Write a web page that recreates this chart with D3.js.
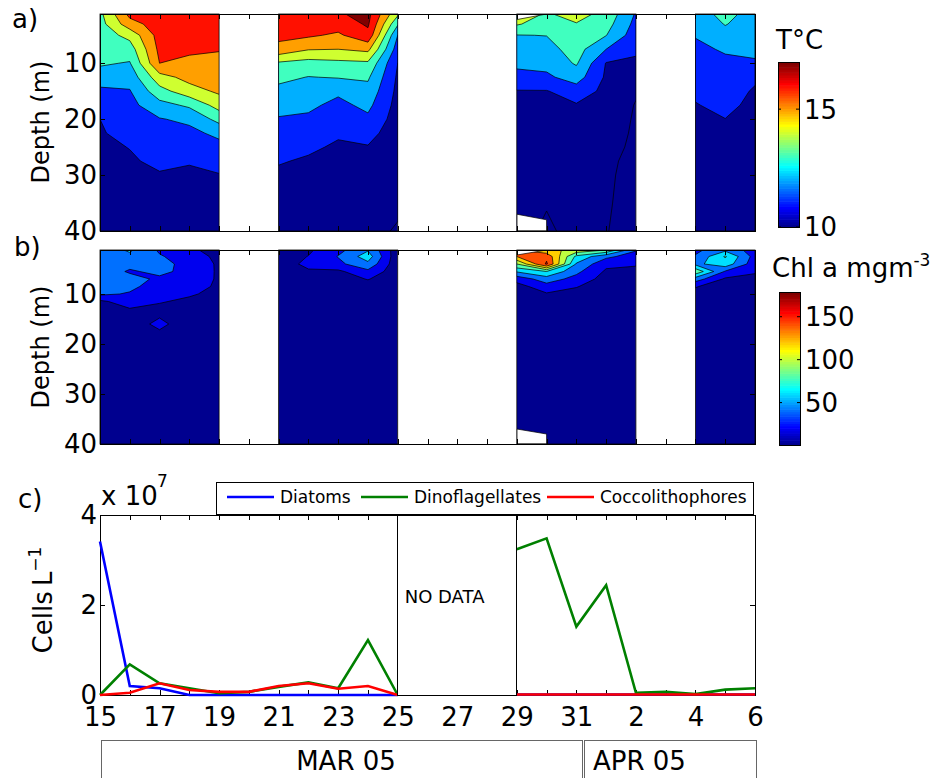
<!DOCTYPE html>
<html>
<head>
<meta charset="utf-8">
<script src="https://cdn.jsdelivr.net/npm/d3@7"></script>
<style>
  body { margin: 0; background: #fff; }
  svg { display: block; font-family: "DejaVu Sans", sans-serif; }
  .tick line, .frame { shape-rendering: crispEdges; }
</style>
</head>
<body>
<svg id="chart" width="943" height="778"></svg>
<script>
// CTD survey days, grouped in runs of consecutive sampling
var surveyDays = ["2005-03-15", "2005-03-16", "2005-03-17", "2005-03-18", "2005-03-19",
                  "2005-03-21", "2005-03-22", "2005-03-23", "2005-03-24", "2005-03-25",
                  "2005-03-29", "2005-03-30", "2005-03-31", "2005-04-01", "2005-04-02",
                  "2005-04-04", "2005-04-05", "2005-04-06"];
var surveyRuns = [[0, 5], [5, 10], [10, 15], [15, 18]];

// temperature profiles (degC), one row per survey day
var tempDepths = [1.2, 3, 5, 7.5, 10, 12.5, 15, 17.5, 20, 22.5, 25, 27.5, 30, 35, 40];
var temperature = [
    [13.75, 13.62, 13.48, 13.30, 13.12, 12.56, 11.77, 11.38, 11.00, 10.93, 10.85, 10.78, 10.70, 10.55, 10.40],
    [16.30, 15.58, 14.31, 13.51, 12.93, 12.39, 11.94, 11.71, 11.49, 11.25, 11.02, 10.91, 10.81, 10.60, 10.40],
    [16.60, 16.50, 16.40, 16.25, 16.00, 14.62, 13.63, 12.66, 11.94, 11.68, 11.42, 11.16, 10.94, 10.62, 10.30],
    [16.60, 16.50, 16.35, 16.15, 15.80, 15.33, 14.59, 13.17, 12.21, 11.74, 11.40, 11.05, 10.88, 10.59, 10.30],
    [16.60, 16.45, 16.30, 16.05, 15.76, 15.47, 15.17, 14.41, 13.33, 12.24, 11.69, 11.30, 10.96, 10.63, 10.30],
    [16.60, 16.45, 16.25, 15.70, 13.85, 13.24, 12.75, 12.32, 11.93, 11.64, 11.34, 11.05, 10.88, 10.59, 10.30],
    [16.70, 16.45, 16.15, 15.06, 13.61, 12.97, 12.58, 12.20, 11.83, 11.47, 11.11, 10.92, 10.79, 10.55, 10.30],
    [16.90, 16.45, 15.83, 15.00, 13.75, 13.06, 12.18, 11.74, 11.41, 11.08, 10.91, 10.79, 10.67, 10.44, 10.20],
    [17.30, 17.13, 16.73, 15.25, 13.83, 13.14, 12.67, 12.25, 11.80, 11.30, 10.95, 10.81, 10.68, 10.42, 10.15],
    [14.20, 13.13, 12.00, 11.50, 11.00, 10.85, 10.75, 10.65, 10.55, 10.50, 10.45, 10.40, 10.30, 10.10, 9.95],
    [14.50, 14.10, 12.97, 12.61, 12.25, 11.64, 10.95, 10.85, 10.75, 10.65, 10.55, 10.45, 10.35, 10.20, 10.10],
    [13.90, 13.50, 13.02, 12.66, 12.30, 11.82, 10.95, 10.80, 10.70, 10.60, 10.50, 10.40, 10.30, 10.02, 9.95],
    [14.35, 13.95, 13.71, 13.41, 13.11, 12.45, 11.52, 10.92, 10.85, 10.75, 10.60, 10.50, 10.40, 10.20, 10.10],
    [13.70, 13.40, 13.03, 12.00, 10.95, 10.85, 10.75, 10.60, 10.40, 10.30, 10.20, 10.10, 10.07, 10.05, 10.02],
    [11.90, 11.70, 11.45, 11.15, 10.85, 10.55, 10.10, 9.95, 9.92, 9.90, 9.88, 9.86, 9.85, 9.82, 9.80],
    [12.55, 12.30, 12.05, 11.82, 11.59, 11.37, 11.14, 10.96, 10.85, 10.70, 10.60, 10.50, 10.40, 10.25, 10.10],
    [13.30, 13.05, 12.66, 12.09, 11.83, 11.62, 11.41, 11.20, 10.99, 10.85, 10.75, 10.60, 10.50, 10.30, 10.15],
    [12.60, 12.50, 12.35, 12.20, 11.90, 11.15, 10.90, 10.80, 10.70, 10.60, 10.50, 10.45, 10.40, 10.30, 10.20]
];
var tempLevels = [10, 11, 12, 13, 14, 15, 16, 17];
var tempRange = [10, 17];

// chlorophyll a profiles (mg m-3)
var chlDepths = [1.2, 2.5, 4, 5.5, 7, 8.5, 10, 11.5, 13, 16, 20, 25, 30, 35, 40];
var chlorophyll = [
    [48, 50, 50, 50, 49, 47, 44, 16, 10, 8, 7, 6, 5, 5, 5],
    [63, 55, 45, 38, 46, 45, 38, 30, 19, 12, 8, 6, 5, 5, 5],
    [37, 42, 46, 44, 37, 30, 26, 22, 14, 24, 10, 7, 6, 5, 5],
    [24, 30, 34, 35, 34, 30, 23, 15, 11, 11, 8, 6, 5, 5, 5],
    [12, 15, 17, 17, 17, 16, 13, 10, 9, 8, 7, 6, 5, 5, 5],
    [10, 11, 12, 11, 9, 8, 8, 7, 7, 6, 6, 5, 5, 5, 5],
    [17, 20.5, 24, 18, 12, 10, 9, 8, 7, 6, 6, 5, 5, 5, 5],
    [34, 41, 35, 16, 11, 9, 8, 7, 7, 6, 6, 5, 5, 5, 5],
    [58, 70, 55, 35, 21, 12, 9, 8, 7, 6, 6, 5, 5, 5, 5],
    [8, 5, 6, 7, 7, 6, 6, 6, 6, 5, 5, 5, 5, 5, 5],
    [140, 140, 100, 62, 28, 12, 9, 8, 7, 6, 6, 5, 5, 5, 5],
    [125, 155, 163, 80, 50, 32, 18, 11, 9, 7, 6, 5, 5, 5, 5],
    [115, 75, 58, 45, 33, 21, 14, 10, 8, 7, 6, 5, 5, 5, 5],
    [100, 45, 25, 17, 12, 10, 9, 8, 7, 6, 6, 5, 5, 5, 5],
    [42, 30, 22, 15, 11, 9, 8, 7, 7, 6, 6, 5, 5, 5, 5],
    [35, 42, 55, 95, 50, 21, 15, 10, 8, 7, 6, 5, 5, 5, 5],
    [55, 82, 72, 38, 17, 12, 10, 8, 7, 6, 6, 5, 5, 5, 5],
    [30, 32, 28, 22, 15, 11, 9, 8, 7, 6, 6, 5, 5, 5, 5]
];
var chlLevels = [20, 40, 60, 80, 100, 120, 140, 160];
var chlRange = [0.6, 178.8];

// casts on 29 March did not reach the surface or the bottom
var missingCorners = [
    [["2005-03-29", 1.2], ["2005-03-29", 2.2], ["2005-03-30", 1.2]],
    [["2005-03-29", 40], ["2005-03-29", 37.0], ["2005-03-30", 38.0], ["2005-03-30", 40]]
];

// daily cell counts, x 10^7 cells per litre (null = no sample)
var cellDaysStart = "2005-03-15", cellDaysEnd = "2005-04-06";
var diatoms =          [3.41, 0.20, 0.15, 0.00, 0.00, 0.00, 0.00, 0.00, 0.00, 0.00, 0.00, null, null, null, 0.01, 0.01, 0.01, 0.01, 0.01, 0.01, 0.01, 0.01, 0.01];
var dinoflagellates =  [0.00, 0.68, 0.26, 0.15, 0.04, 0.07, 0.18, 0.28, 0.15, 1.22, 0.00, null, null, null, 3.24, 3.48, 1.52, 2.44, 0.05, 0.07, 0.02, 0.12, 0.15];
var coccolithophores = [0.00, 0.05, 0.26, 0.11, 0.07, 0.07, 0.20, 0.26, 0.14, 0.20, 0.00, null, null, null, 0.01, 0.01, 0.01, 0.01, 0.01, 0.01, 0.01, 0.01, 0.01];
var seriesNames = ["Diatoms", "Dinoflagellates", "Coccolithophores"];
var seriesColours = ["#0000ff", "#008000", "#ff0000"];
var noDataSpan = ["2005-03-25", "2005-03-29"];
var monthLabels = ["MAR 05", "APR 05"];

var svg = d3.select("#chart");
var parse = d3.utcParse("%Y-%m-%d");
var allDays = d3.utcDay.range(parse(cellDaysStart), d3.utcDay.offset(parse(cellDaysEnd), 1));

var x = d3.scaleUtc().domain([parse(cellDaysStart), parse(cellDaysEnd)]).range([100, 755]);
var yTemp = d3.scaleLinear().domain([1.2, 40]).range([14, 231]);
var yChl = d3.scaleLinear().domain([1.2, 40]).range([250, 444]);
var yCells = d3.scaleLinear().domain([0, 4]).range([695, 515]);

// matlab style jet(64)
function jetRow(r) {
    var u = function (i) {
        if (i < 1) return 0;
        if (i <= 16) return i / 16;
        if (i <= 31) return 1;
        if (i <= 47) return (48 - i) / 16;
        return 0;
    };
    return d3.rgb(255 * u(r - 24), 255 * u(r - 8), 255 * u(r + 8)).formatHex();
}
function jet(v, range) {
    var r = Math.floor((v - range[0]) / (range[1] - range[0]) * 64) + 1;
    return jetRow(Math.max(1, Math.min(64, r)));
}

// filled contours, one block per run of survey days
function drawField(key, yScale, depths, profiles, levels, range) {
    var field = svg.append("g");
    surveyRuns.forEach(function (run, k) {
        var days = surveyDays.slice(run[0], run[1]).map(parse);
        var n = days.length, m = depths.length;
        var values = [];
        depths.forEach(function (d, j) {
            for (var i = run[0]; i < run[1]; i++) values.push(profiles[i][j]);
        });
        var gx = d3.scaleLinear().domain(d3.range(n)).range(days.map(x));
        var gy = d3.scaleLinear().domain(d3.range(m)).range(depths.map(yScale));
        var path = d3.geoPath(d3.geoTransform({
            point: function (a, b) { this.stream.point(gx(a - 0.5), gy(b - 0.5)); }
        }));

        var x0 = x(days[0]), x1 = x(days[n - 1]);
        var yr = yScale.range();
        var id = "clip-" + key + "-" + k;
        field.append("clipPath").attr("id", id).append("rect")
            .attr("x", x0).attr("y", yr[0]).attr("width", x1 - x0).attr("height", yr[1] - yr[0]);

        var block = field.append("g").attr("clip-path", "url(#" + id + ")");
        block.append("rect")
            .attr("x", x0).attr("y", yr[0]).attr("width", x1 - x0).attr("height", yr[1] - yr[0])
            .attr("fill", jet(range[0], range));

        block.selectAll("path.band")
            .data(d3.contours().size([n, m]).thresholds(levels)(values))
            .enter().append("path")
            .attr("class", "band")
            .attr("d", path)
            .attr("fill", function (d) { return jet(d.value, range); })
            .attr("stroke", "#000")
            .attr("stroke-width", 0.7);

        // blank out the parts of a cast that have no data
        missingCorners.forEach(function (poly) {
            if (parse(poly[0][0]) < days[0] || parse(poly[0][0]) > days[n - 1]) return;
            block.append("path")
                .attr("d", d3.line()(poly.map(function (p) { return [x(parse(p[0])), yScale(p[1])]; })) + "Z")
                .attr("fill", "#fff")
                .attr("stroke", "#000")
                .attr("stroke-width", 0.7);
        });

        field.append("rect")
            .attr("x", x0).attr("y", yr[0]).attr("width", x1 - x0).attr("height", yr[1] - yr[0])
            .attr("fill", "none").attr("stroke", "#000").attr("stroke-width", 0.8);
    });
}

function styleAxis(g) {
    g.attr("font-family", null).attr("font-size", null);
    g.select(".domain").remove();
    g.selectAll(".tick line").attr("stroke", "#000");
    g.selectAll(".tick text").attr("fill", "#000").style("font-size", "26px");
}

// box with inward ticks on all four sides
function drawFrame(yScale, yTicks, yFormat, xFormat) {
    var g = svg.append("g");
    var yr = yScale.range();
    var top = Math.min(yr[0], yr[1]), bottom = Math.max(yr[0], yr[1]);

    g.append("g").attr("transform", "translate(0," + bottom + ")")
        .call(d3.axisBottom(x).tickValues(allDays).tickSize(-5).tickPadding(13).tickFormat(xFormat))
        .call(styleAxis);
    g.append("g").attr("transform", "translate(0," + top + ")")
        .call(d3.axisTop(x).tickValues(allDays).tickSize(-5).tickFormat(""))
        .call(styleAxis);
    g.append("g").attr("transform", "translate(100,0)")
        .call(d3.axisLeft(yScale).tickValues(yTicks).tickSize(-5).tickPadding(3).tickFormat(yFormat))
        .call(styleAxis);
    g.append("g").attr("transform", "translate(755,0)")
        .call(d3.axisRight(yScale).tickValues(yTicks).tickSize(-5).tickFormat(""))
        .call(styleAxis);

    g.append("rect").attr("class", "frame")
        .attr("x", 100).attr("y", top).attr("width", 655).attr("height", bottom - top)
        .attr("fill", "none").attr("stroke", "#000").attr("stroke-width", 1);
    return g;
}

function drawColorbar(x0, yTop, yBot, range, ticks) {
    var g = svg.append("g");
    var s = d3.scaleLinear().domain(range).range([yBot, yTop]);
    var h = (yBot - yTop) / 64;
    g.selectAll("rect.cb").data(d3.range(1, 65)).enter().append("rect")
        .attr("class", "cb")
        .attr("x", x0).attr("width", 21)
        .attr("y", function (r) { return yBot - r * h; })
        .attr("height", h + 0.6)
        .attr("fill", function (r) { return jetRow(r); });
    g.append("rect").attr("class", "frame")
        .attr("x", x0).attr("y", yTop).attr("width", 21).attr("height", yBot - yTop)
        .attr("fill", "none").attr("stroke", "#000");
    ticks.forEach(function (t) {
        g.append("line").attr("x1", x0).attr("x2", x0 + 3).attr("y1", s(t)).attr("y2", s(t)).attr("stroke", "#000");
        g.append("line").attr("x1", x0 + 18).attr("x2", x0 + 21).attr("y1", s(t)).attr("y2", s(t)).attr("stroke", "#000");
        g.append("text").attr("x", x0 + 26).attr("y", s(t)).attr("dy", "0.36em")
            .style("font-size", "26px").text(t);
    });
}

function text(str, px, py, size, anchor) {
    return svg.append("text").attr("x", px).attr("y", py)
        .attr("text-anchor", anchor || "start")
        .style("font-size", size + "px").text(str);
}

function rotatedLabel(str, cx, cy, size) {
    return svg.append("text")
        .attr("transform", "translate(" + cx + "," + cy + ") rotate(-90)")
        .attr("text-anchor", "middle").attr("dy", "0.36em")
        .style("font-size", size + "px").text(str);
}

// a) temperature
drawField("t", yTemp, tempDepths, temperature, tempLevels, tempRange);
drawFrame(yTemp, [10, 20, 30, 40], d3.format("d"), "");
drawColorbar(778, 62, 227, tempRange, [10, 15]);
text("T\u00b0C", 776, 49, 26);
text("a)", 12, 28, 26);
rotatedLabel("Depth (m)", 40, 122, 24);

// b) chlorophyll
drawField("c", yChl, chlDepths, chlorophyll, chlLevels, chlRange);
drawFrame(yChl, [10, 20, 30, 40], d3.format("d"), "");
drawColorbar(779, 292, 445, chlRange, [50, 100, 150]);
var chlTitle = text("Chl a mgm", 772, 277, 26);
chlTitle.append("tspan").attr("dy", -11).style("font-size", "17px").text("-3");
text("b)", 14, 256, 26);
rotatedLabel("Depth (m)", 40, 347, 24);

// c) cell counts
drawFrame(yCells, [0, 2, 4], d3.format("d"), function (d, i) { return i % 2 ? "" : d3.utcFormat("%-d")(d); });

var cellLine = d3.line()
    .defined(function (v) { return v != null; })
    .x(function (v, i) { return x(allDays[i]); })
    .y(function (v) { return yCells(v); });

[diatoms, dinoflagellates, coccolithophores].forEach(function (series, k) {
    svg.append("path")
        .attr("d", cellLine(series))
        .attr("fill", "none")
        .attr("stroke", seriesColours[k])
        .attr("stroke-width", 2.6)
        .attr("stroke-linejoin", "miter");
});

var nd0 = x(parse(noDataSpan[0])), nd1 = x(parse(noDataSpan[1]));
svg.append("rect").attr("class", "frame")
    .attr("x", nd0).attr("y", 515).attr("width", nd1 - nd0).attr("height", 180)
    .attr("fill", "#fff").attr("stroke", "#000");
text("NO DATA", nd0 + 7, 603, 18);

// legend
var legend = svg.append("g");
legend.append("rect").attr("class", "frame")
    .attr("x", 216).attr("y", 482).attr("width", 537).attr("height", 32)
    .attr("fill", "#fff").attr("stroke", "#000");
var legendX = [227, 361, 547];
seriesNames.forEach(function (name, k) {
    legend.append("line")
        .attr("x1", legendX[k]).attr("x2", legendX[k] + 47).attr("y1", 497).attr("y2", 497)
        .attr("stroke", seriesColours[k]).attr("stroke-width", 2.6);
    legend.append("text")
        .attr("x", legendX[k] + 53).attr("y", 497).attr("dy", "0.36em")
        .style("font-size", "17px").text(name);
});

text("x 10", 101, 505, 26);
text("7", 157, 487, 17);
text("c)", 18, 508, 26);

var cellsLabel = svg.append("text")
    .attr("transform", "translate(43,600) rotate(-90)")
    .attr("text-anchor", "middle").attr("dy", "0.36em")
    .style("font-size", "26px");
cellsLabel.append("tspan").text("Cells\u2009L");
cellsLabel.append("tspan").attr("dy", -11).style("font-size", "17px").text("\u22121");

// month boxes under the date axis
var monthEdges = [[101, 582], [584, 756]];
monthLabels.forEach(function (label, k) {
    var e = monthEdges[k];
    svg.append("rect").attr("class", "frame")
        .attr("x", e[0]).attr("y", 740).attr("width", e[1] - e[0]).attr("height", 60)
        .attr("fill", "none").attr("stroke", "#666");
    if (k === 0) text(label, 346, 770, 26, "middle");
    else text(label, e[0] + 9, 770, 26);
});
</script>
</body>
</html>
